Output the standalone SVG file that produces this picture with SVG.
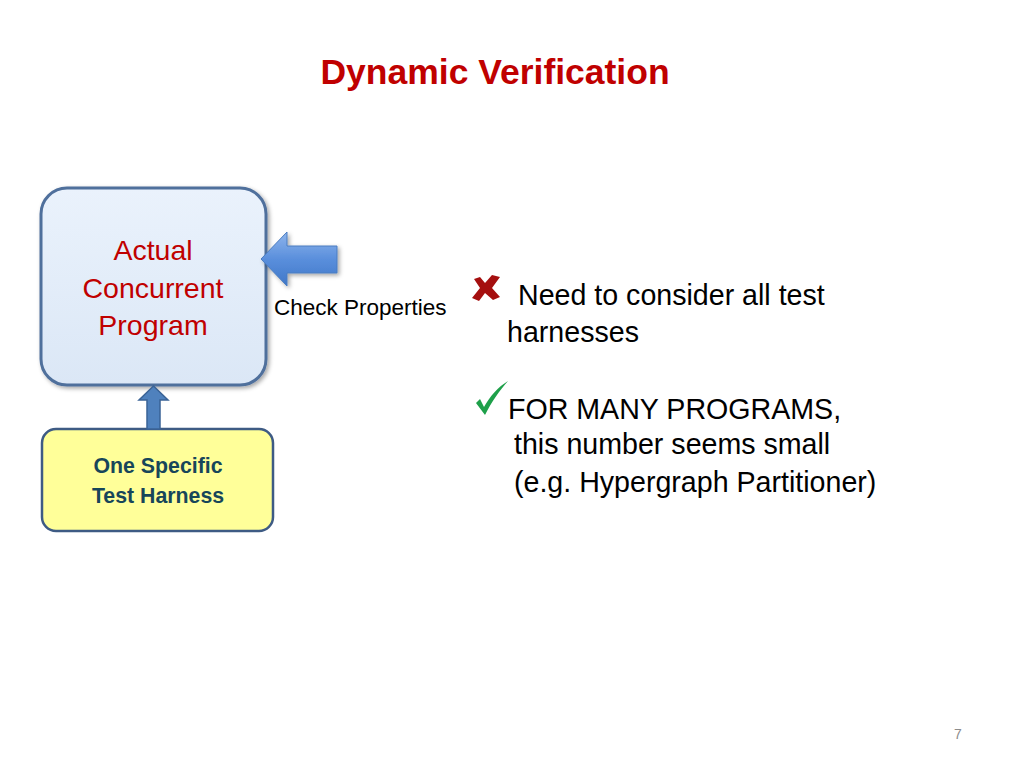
<svg xmlns="http://www.w3.org/2000/svg" width="1024" height="768" viewBox="0 0 1024 768">
<defs>
<style>
text{font-family:"Liberation Sans",Arial,sans-serif}
.title{font-size:35.5px;font-weight:bold;fill:#c00000}
.red{font-size:28.5px;fill:#c00000}
.body{font-size:28.6px;fill:#000}
.small{font-size:22.5px;fill:#000}
.teal{font-size:21.3px;font-weight:bold;fill:#17465a}
</style>
<linearGradient id="gBox" x1="0" y1="0" x2="0" y2="1">
<stop offset="0" stop-color="#eaf2fc"/>
<stop offset="1" stop-color="#dbe7f6"/>
</linearGradient>
<linearGradient id="gArrow" x1="0" y1="0" x2="0" y2="1">
<stop offset="0" stop-color="#8fb5ec"/>
<stop offset="0.5" stop-color="#5a8fdc"/>
<stop offset="1" stop-color="#3f77c8"/>
</linearGradient>
<filter id="sh" x="-10%" y="-10%" width="130%" height="130%">
<feDropShadow dx="2" dy="2" stdDeviation="2" flood-color="#000" flood-opacity="0.35"/>
</filter>
</defs>
<rect width="1024" height="768" fill="#fff"/>
<text class="title" x="495" y="84" text-anchor="middle">Dynamic Verification</text>

<g id="program">
<rect x="41" y="188" width="225" height="197" rx="26" fill="url(#gBox)" stroke="#4f6f9c" stroke-width="3" filter="url(#sh)"/>
<text class="red" x="153" y="260" text-anchor="middle">Actual</text>
<text class="red" x="153" y="298" text-anchor="middle">Concurrent</text>
<text class="red" x="153" y="335" text-anchor="middle">Program</text>
</g>

<g id="harness">
<rect x="42" y="429" width="231" height="102" rx="14" fill="#ffff99" stroke="#3e5b84" stroke-width="2.5"/>
<text class="teal" x="158" y="473" text-anchor="middle">One Specific</text>
<text class="teal" x="158" y="503" text-anchor="middle">Test Harness</text>
</g>

<g id="connectors">
<path d="M147,429 L147,400 L139,400 L153.5,386 L168,400 L160,400 L160,429 Z" fill="#4f81bd" stroke="#3a6396" stroke-width="1.5"/>
<path d="M261,259 L287,232 L287,246 L337,246 L337,273 L287,273 L287,286 Z" fill="url(#gArrow)" stroke="#4a7cc0" stroke-width="1" filter="url(#sh)"/>
</g>

<g id="check-label">
<text class="small" x="274" y="315">Check Properties</text>
</g>

<g id="bullets">
<path d="M474,279 L480,277 L485,283 L492,275 L500,277 L492,288 L500,297 L493,300 L485,293 L479,301 L472,298 L480,288 Z" fill="#a50f0f"/>
<text class="body" x="518" y="305">Need to consider all test</text>
<text class="body" x="507" y="342">harnesses</text>
<path d="M476,403 L480,399 L484,407 C490,396 498,387 508,381 C500,390 492,401 485,415 Z" fill="#1ea04a"/>
<text class="body" x="508" y="419">FOR MANY PROGRAMS,</text>
<text class="body" x="514" y="454">this number seems small</text>
<text class="body" x="514" y="492">(e.g. Hypergraph Partitioner)</text>
</g>

<text x="958" y="739" font-size="14" fill="#8c8c8c" text-anchor="middle">7</text>
</svg>
